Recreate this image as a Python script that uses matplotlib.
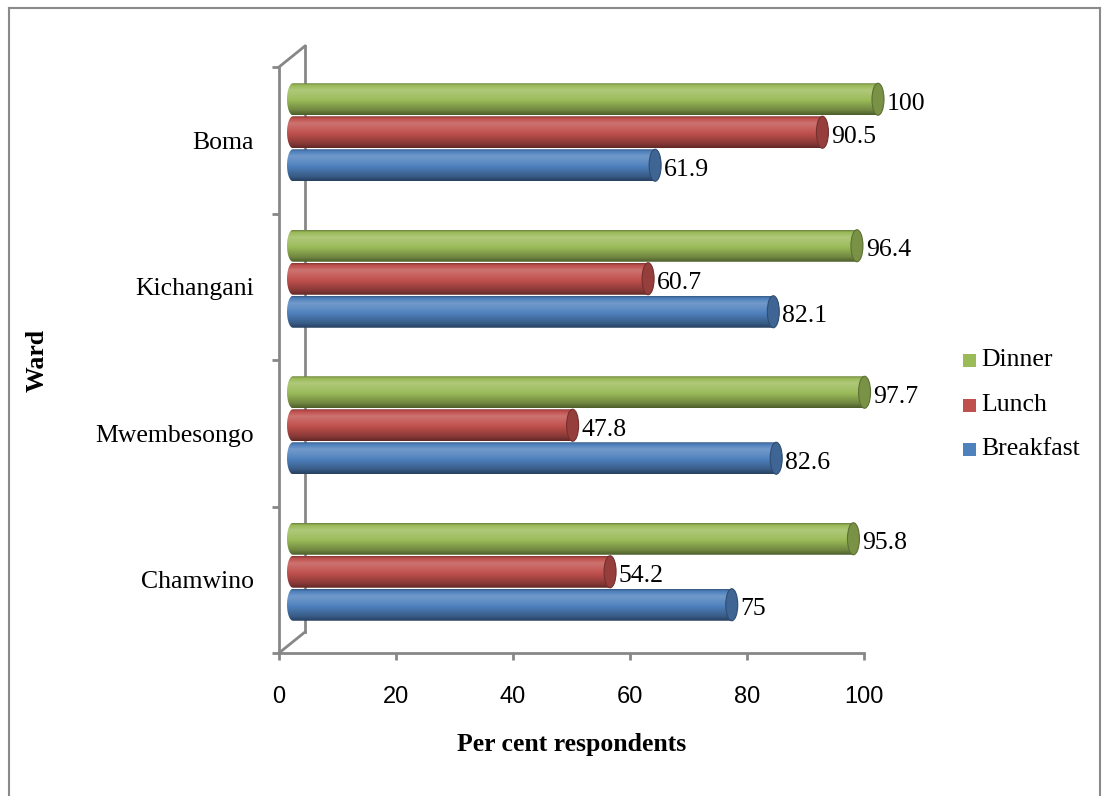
import numpy as np
import matplotlib
matplotlib.use("Agg")
import matplotlib.pyplot as plt
from matplotlib.patches import Polygon, Ellipse, Rectangle
from matplotlib.lines import Line2D
from matplotlib.colors import to_rgb

# ---------------- data ----------------
wards = ["Chamwino", "Mwembesongo", "Kichangani", "Boma"]
breakfast = [75, 82.6, 82.1, 61.9]
lunch = [54.2, 47.8, 60.7, 90.5]
dinner = [95.8, 97.7, 96.4, 100]
series_names = ["Breakfast", "Lunch", "Dinner"]
series_colors = ["#4F81BD", "#C0504D", "#9BBB59"]
x_ticks = [0, 20, 40, 60, 80, 100]

W, H = 1106, 796
SERIF = "Liberation Serif"
SANS = "Liberation Sans"
GRID = "#878787"


def fx(px):
    return px / W


def fy(py):
    return 1 - py / H


def shade(color, f):
    c = np.array(to_rgb(color))
    if f >= 1:
        return c + (1 - c) * (f - 1)
    return c * f


def gradient(color, n=64):
    # vertical cylinder shading, top row first
    t = np.linspace(0, 1, n)
    stops_t = [0.0, 0.06, 0.22, 0.5, 0.85, 1.0]
    stops_f = [0.7, 0.98, 1.2, 1.03, 0.72, 0.5]
    f = np.interp(t, stops_t, stops_f)
    return np.array([shade(color, v) for v in f]).reshape(n, 1, 3)


fig = plt.figure(figsize=(W / 100, H / 100), dpi=100)
ax = fig.add_axes([fx(279), fy(653), fx(864) - fx(279), fy(67) - fy(653)])
ax.set_xlim(0, 100)
ax.set_ylim(0, 4)

px_x = 585 / 100.0   # px per x unit
px_y = 586 / 4.0     # px per category
off_x = 14 / px_x    # 3d depth shift
off_y = 8 / px_y
bar_h = 32 / px_y
step = 33 / px_y
rx = 6 / px_x


def cylinder(yc, v, color):
    x0 = off_x
    x1 = v + off_x
    ang = np.linspace(np.pi / 2, 3 * np.pi / 2, 40)
    pts = [(x0 + rx * np.cos(a), yc + bar_h / 2 * np.sin(a)) for a in ang]
    pts += [(x1, yc - bar_h / 2), (x1, yc + bar_h / 2)]
    body = Polygon(pts, closed=True, facecolor="none", edgecolor="none",
                   transform=ax.transData)
    ax.add_patch(body)
    im = ax.imshow(gradient(color), extent=[x0 - rx, x1, yc - bar_h / 2, yc + bar_h / 2],
                   aspect="auto", interpolation="bilinear", zorder=3)
    im.set_clip_path(body)
    im.set_clip_box(fig.bbox)
    cap = Ellipse((x1, yc), 2 * rx, bar_h, facecolor=shade(color, 0.78),
                  edgecolor=shade(color, 0.6), lw=0.8, zorder=4, clip_on=False)
    ax.add_patch(cap)


all_vals = [breakfast, lunch, dinner]
for i, w in enumerate(wards):
    yc0 = i + 0.5 + off_y
    for k, vals in enumerate(all_vals):
        yc = yc0 + (k - 1) * step
        cylinder(yc, vals[i], series_colors[k])
        ax.text(vals[i] + off_x + rx + 0.5, yc - 0.03, f"{vals[i]:g}",
                fontsize=18.5, family=SERIF, va="center", ha="left", zorder=5)

ax.set_xlim(0, 100)
ax.set_ylim(0, 4)

# axes styling
for s in ["top", "right"]:
    ax.spines[s].set_visible(False)
for s in ["left", "bottom"]:
    ax.spines[s].set_color(GRID)
    ax.spines[s].set_linewidth(2)
ax.set_xticks(x_ticks)
ax.set_xticklabels([str(t) for t in x_ticks], fontsize=17, family=SANS)
ax.tick_params(axis="x", length=5, width=2, color=GRID, pad=19)
ax.set_yticks([0, 1, 2, 3, 4])
ax.set_yticklabels([])
ax.set_yticks([0.5, 1.5, 2.5, 3.5], minor=True)
ax.set_yticklabels(wards, minor=True, fontsize=18.5, family=SERIF)
ax.tick_params(axis="y", which="major", length=5, width=2, color=GRID)
ax.tick_params(axis="y", which="minor", length=0, pad=18)

# side wall of the 3d frame
dx, dy = 26 / px_x, 21 / px_y
wall = dict(color=GRID, lw=2, clip_on=False, zorder=1)
ax.plot([0, dx], [4, 4 + dy], **wall)
ax.plot([dx, dx], [4 + dy, dy], **wall)
ax.plot([dx, 0], [dy, 0], **wall)

# axis titles
fig.text(fx(572), fy(745), "Per cent respondents", fontsize=18.5, family=SERIF,
         weight="bold", ha="center", va="center")
fig.text(fx(37), fy(360), "Ward", fontsize=18.5, family=SERIF, weight="bold",
         rotation=90, ha="center", va="center")

# legend
leg_y = [449, 405, 360]
for k, name in enumerate(series_names):
    fig.patches.append(Rectangle((fx(963), fy(leg_y[k] + 6.5)), fx(13), 13 / H,
                                 facecolor=series_colors[k], transform=fig.transFigure))
    fig.text(fx(981), fy(leg_y[k]), name, fontsize=18.5, family=SERIF,
             ha="left", va="center")

# outer frame
frame = dict(color="#8a8a8a", lw=1.5, transform=fig.transFigure)
fig.lines.append(Line2D([fx(8.5), fx(8.5)], [fy(796), fy(7.5)], **frame))
fig.lines.append(Line2D([fx(8.5), fx(1099.5)], [fy(7.5), fy(7.5)], **frame))
fig.lines.append(Line2D([fx(1099.5), fx(1099.5)], [fy(7.5), fy(796)], **frame))

fig.savefig("out.png", dpi=100)
